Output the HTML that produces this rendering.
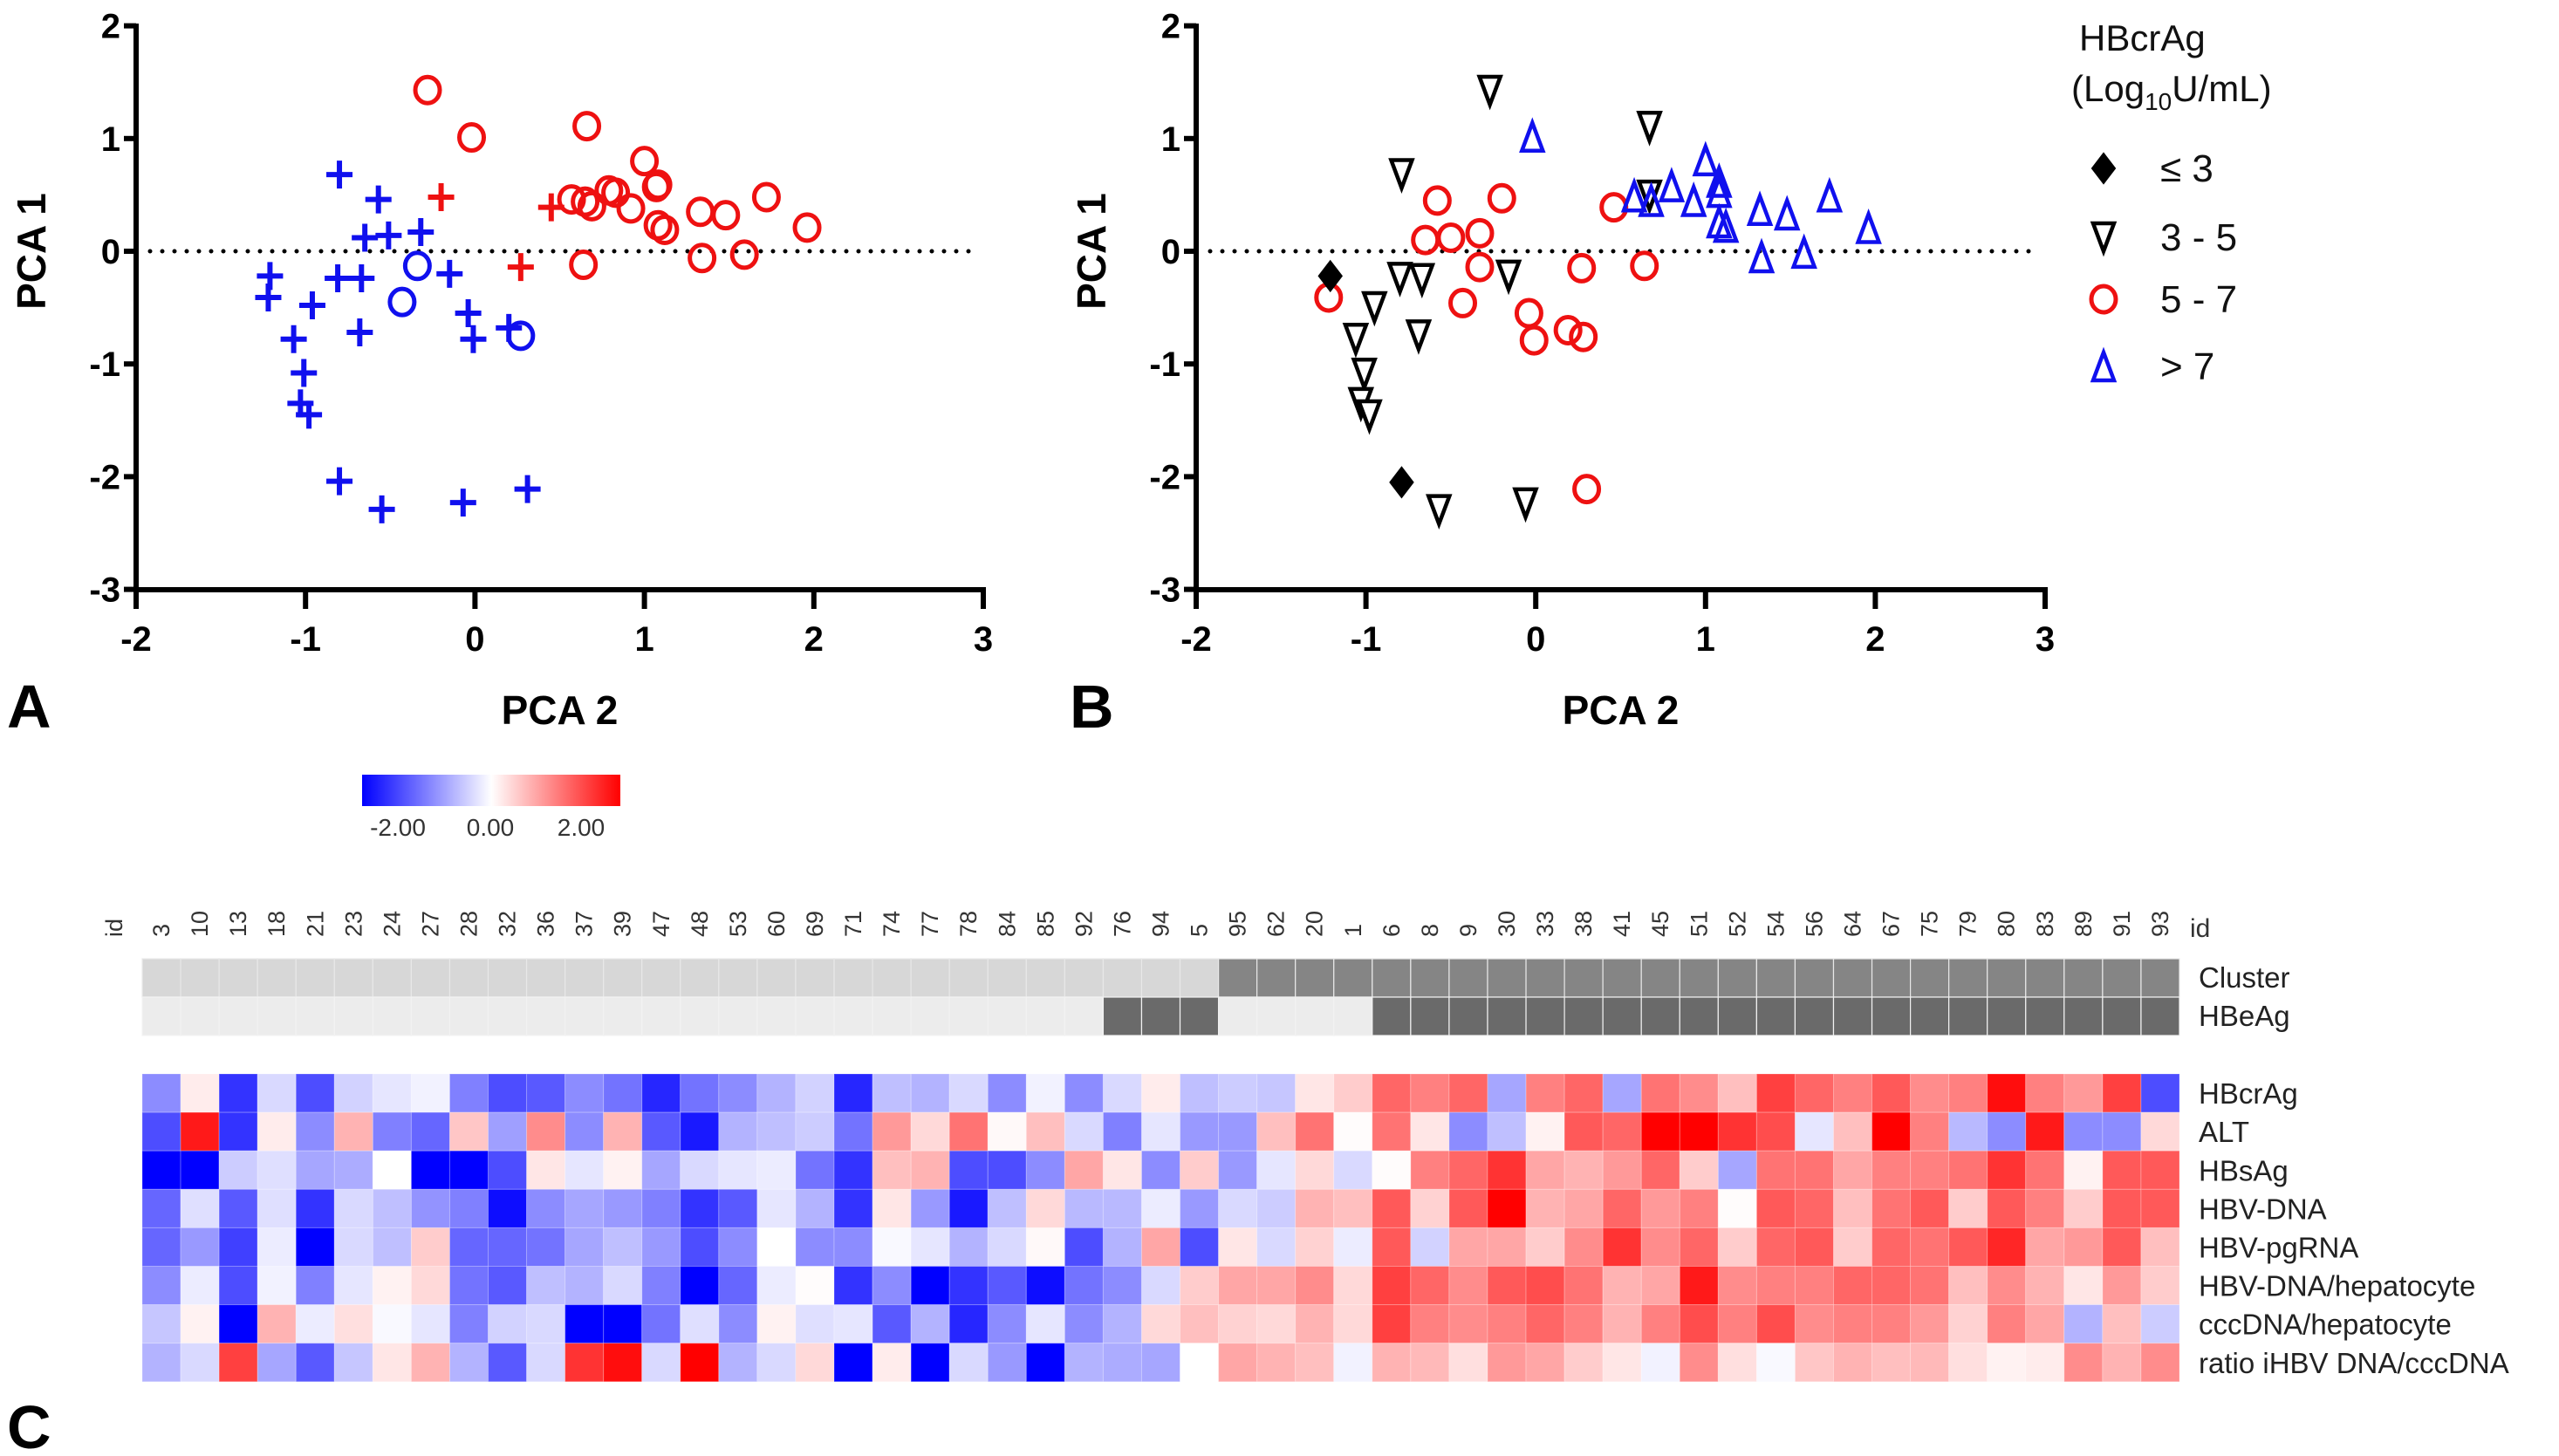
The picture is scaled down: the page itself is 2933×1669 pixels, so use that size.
<!DOCTYPE html>
<html><head><meta charset="utf-8"><style>
html,body{margin:0;padding:0;background:#fff;}
svg{display:block;font-family:"Liberation Sans",sans-serif;}
</style></head><body>
<svg id="fig" width="2933" height="1669" viewBox="0 0 2933 1669" xmlns="http://www.w3.org/2000/svg">
<defs>
<linearGradient id="cbar" x1="0" x2="1" y1="0" y2="0">
<stop offset="0" stop-color="#0000ff"/><stop offset="0.5" stop-color="#ffffff"/><stop offset="1" stop-color="#ff0000"/>
</linearGradient>
</defs>
<g id="panelA"></g>
<g id="panelB"></g>
<g id="legendB">
<text x="2383" y="58" font-size="42" fill="#111">HBcrAg</text>
<text x="2374" y="116" font-size="42" fill="#111">(Log<tspan font-size="28" dy="10">10</tspan><tspan dy="-10">U/mL)</tspan></text>
</g>
<g id="colorbar">
<rect x="415" y="888" width="296" height="36" fill="url(#cbar)"/>
<text x="456" y="958" font-size="28" text-anchor="middle" fill="#333">-2.00</text>
<text x="562" y="958" font-size="28" text-anchor="middle" fill="#333">0.00</text>
<text x="666" y="958" font-size="28" text-anchor="middle" fill="#333">2.00</text>
</g>
<g id="heat"></g>
<text x="8" y="834" font-size="70" font-weight="bold" fill="#000">A</text>
<text x="1226" y="834" font-size="70" font-weight="bold" fill="#000">B</text>
<text x="8" y="1660" font-size="70" font-weight="bold" fill="#000">C</text>
</svg>
<script>
// ---------- Panel A data ----------
const aRedCircX = [-0.28,-0.02,0.66,1.0,1.08,1.07,0.57,0.65,0.69,0.79,0.83,0.92,1.08,1.12,1.33,1.48,1.72,1.96,0.64,1.34,1.59];
const aRedCircY = [1.43,1.01,1.11,0.80,0.59,0.57,0.46,0.44,0.40,0.54,0.52,0.38,0.23,0.19,0.35,0.32,0.48,0.21,-0.12,-0.06,-0.03];
const aRedPlusX = [-0.2,0.45,0.27];
const aRedPlusY = [0.48,0.39,-0.14];
const aBlueCircX = [-0.34,-0.43,0.27];
const aBlueCircY = [-0.13,-0.45,-0.75];
const aBluePlusX = [-0.8,-0.57,-0.65,-0.51,-0.32,-1.21,-1.22,-0.96,-0.81,-0.67,-0.15,-0.04,-0.01,0.2,-0.68,-1.07,-1.01,-1.03,-0.98,-0.8,-0.55,-0.07,0.31];
const aBluePlusY = [0.68,0.46,0.12,0.14,0.17,-0.22,-0.41,-0.48,-0.24,-0.24,-0.2,-0.55,-0.78,-0.68,-0.72,-0.78,-1.08,-1.35,-1.45,-2.04,-2.29,-2.23,-2.11];
// ---------- Panel B data ----------
const bDiamX = [-1.21,-0.79];
const bDiamY = [-0.22,-2.05];
const bDownX = [-0.27,0.67,-0.79,-0.8,-0.67,-0.16,-0.95,-1.06,-1.01,-1.03,-0.98,-0.69,-0.57,-0.06,0.67];
const bDownY = [1.44,1.12,0.70,-0.22,-0.23,-0.2,-0.48,-0.76,-1.07,-1.33,-1.44,-0.73,-2.28,-2.22,0.51];
const bCircX = [-0.58,-0.2,-0.65,-0.5,-0.33,-0.33,0.27,0.64,0.46,-1.22,-0.43,-0.04,-0.01,0.19,0.28,0.3];
const bCircY = [0.45,0.47,0.1,0.12,0.16,-0.14,-0.15,-0.13,0.39,-0.41,-0.46,-0.55,-0.79,-0.7,-0.76,-2.11];
const bUpX = [-0.02,1.0,0.58,0.68,0.8,0.93,1.08,1.08,1.12,1.32,1.48,1.73,1.96,1.33,1.58,1.08];
const bUpY = [1.0,0.79,0.47,0.43,0.56,0.43,0.6,0.51,0.2,0.35,0.31,0.47,0.19,-0.07,-0.03,0.24];
const xTicks = [-2,-1,0,1,2,3];
const yTicks = [2,1,0,-1,-2,-3];
const legendLabels = ["\u2264 3","3 - 5","5 - 7","> 7"];
// ---------- Heatmap data ----------
const ids = [3,10,13,18,21,23,24,27,28,32,36,37,39,47,48,53,60,69,71,74,77,78,84,85,92,76,94,5,95,62,20,1,6,8,9,30,33,38,41,45,51,52,54,56,64,67,75,79,80,83,89,91,93];
const rowNames = ["HBcrAg","ALT","HBsAg","HBV-DNA","HBV-pgRNA","HBV-DNA/hepatocyte","cccDNA/hepatocyte","ratio iHBV DNA/cccDNA"];
const clusterVals = [1,1,1,1,1,1,1,1,1,1,1,1,1,1,1,1,1,1,1,1,1,1,1,1,1,1,1,1,2,2,2,2,2,2,2,2,2,2,2,2,2,2,2,2,2,2,2,2,2,2,2,2,2];
const hbeagVals = [0,0,0,0,0,0,0,0,0,0,0,0,0,0,0,0,0,0,0,0,0,0,0,0,0,1,1,1,0,0,0,0,1,1,1,1,1,1,1,1,1,1,1,1,1,1,1,1,1,1,1,1,1];
const rowHBcrAg = [-0.9,0.15,-1.6,-0.3,-1.4,-0.35,-0.2,-0.1,-1.0,-1.4,-1.3,-0.9,-1.1,-1.7,-1.1,-0.9,-0.6,-0.35,-1.7,-0.5,-0.6,-0.3,-0.9,-0.1,-0.9,-0.3,0.15,-0.5,-0.4,-0.45,0.2,0.4,1.2,1.0,1.2,-0.7,1.0,1.2,-0.7,1.1,0.9,0.5,1.5,1.2,1.0,1.3,0.9,1.0,1.9,1.0,0.8,1.5,-1.4];
const rowALT = [-1.4,1.8,-1.6,0.15,-0.9,0.6,-1.0,-1.2,0.45,-0.75,0.9,-0.9,0.6,-1.3,-1.8,-0.6,-0.5,-0.4,-1.1,0.8,0.3,1.1,0.05,0.5,-0.3,-1.0,-0.2,-0.8,-0.8,0.5,1.1,0.02,1.1,0.2,-0.9,-0.5,0.1,1.3,1.2,2.0,2.0,1.6,1.4,-0.2,0.5,2.0,1.0,-0.55,-0.9,1.8,-0.9,-0.9,0.3];
const rowHBsAg = [-2,-2,-0.4,-0.25,-0.7,-0.65,0,-2,-2,-1.4,0.2,-0.2,0.1,-0.7,-0.3,-0.2,-0.15,-1.1,-1.6,0.5,0.6,-1.4,-1.4,-0.9,0.7,0.2,-0.9,0.4,-0.8,-0.2,0.3,-0.3,0.02,1.0,1.2,1.6,0.7,0.6,0.8,1.2,0.4,-0.7,1.1,1.1,0.7,1.0,1.0,1.1,1.6,1.1,0.1,1.3,1.3];
const rowDNA = [-1.2,-0.25,-1.3,-0.25,-1.6,-0.3,-0.5,-0.85,-1.0,-1.9,-0.9,-0.7,-0.8,-1.0,-1.6,-1.3,-0.2,-0.6,-1.6,0.2,-0.8,-1.8,-0.5,0.3,-0.55,-0.55,-0.15,-0.8,-0.3,-0.4,0.6,0.5,1.3,0.35,1.3,2.0,0.6,0.7,1.2,0.8,1.0,0.02,1.3,1.2,0.5,1.1,1.3,0.4,1.3,1.0,0.4,1.3,1.3];
const rowPgRNA = [-1.2,-0.8,-1.5,-0.15,-2,-0.3,-0.5,0.4,-1.2,-1.2,-1.1,-0.7,-0.5,-0.8,-1.4,-0.9,0,-0.9,-0.9,-0.05,-0.2,-0.6,-0.3,0.05,-1.4,-0.6,0.7,-1.4,0.2,-0.3,0.35,-0.15,1.3,-0.35,0.7,0.7,0.4,0.9,1.6,0.9,1.2,0.4,1.2,1.3,0.4,1.2,1.1,1.3,1.7,0.7,0.8,1.3,0.5];
const rowDNAhep = [-0.9,-0.15,-1.4,-0.1,-1.0,-0.2,0.1,0.3,-1.1,-1.3,-0.5,-0.6,-0.3,-1.0,-2,-1.2,-0.15,0.02,-1.6,-0.9,-2,-1.6,-1.3,-1.9,-1.1,-0.9,-0.3,0.4,0.7,0.7,0.9,0.3,1.5,1.2,0.9,1.3,1.4,1.1,0.6,0.7,1.8,0.9,1.0,1.0,1.2,1.2,1.1,0.5,0.9,0.6,0.2,0.8,0.4];
const rowCccDNA = [-0.45,0.1,-2,0.6,-0.15,0.25,-0.05,-0.2,-1.0,-0.35,-0.3,-2,-2,-1.1,-0.25,-0.9,0.1,-0.25,-0.2,-1.3,-0.6,-1.7,-0.9,-0.2,-0.9,-0.6,0.3,0.5,0.35,0.3,0.6,0.3,1.5,1.0,0.9,1.0,1.2,1.0,0.6,1.0,1.4,1.0,1.4,0.9,1.0,1.0,0.8,0.35,1.0,0.7,-0.6,0.5,-0.4];
const rowRatio = [-0.6,-0.3,1.5,-0.7,-1.3,-0.45,0.2,0.6,-0.6,-1.3,-0.3,1.6,1.9,-0.3,2.0,-0.6,-0.3,0.3,-2,0.15,-2,-0.3,-0.8,-2,-0.6,-0.65,-0.7,0,0.7,0.6,0.5,-0.1,0.6,0.55,0.25,0.8,0.7,0.4,0.2,-0.1,0.9,0.25,-0.05,0.45,0.6,0.5,0.55,0.25,0.1,0.15,0.9,0.6,0.9];
const heatRows = [rowHBcrAg,rowALT,rowHBsAg,rowDNA,rowPgRNA,rowDNAhep,rowCccDNA,rowRatio];

const NS="http://www.w3.org/2000/svg";
function mk(parent,tag,attrs){const e=document.createElementNS(NS,tag);for(const k in attrs)e.setAttribute(k,attrs[k]);parent.appendChild(e);return e;}

function drawAxes(g,x0,x1,y0,y1,sx,sy){
  mk(g,'line',{x1:x0,y1:y0-3,x2:x0,y2:y1+3,stroke:'#000','stroke-width':6});
  mk(g,'line',{x1:x0-3,y1:y1,x2:x1+3,y2:y1,stroke:'#000','stroke-width':6});
  xTicks.forEach(v=>{const x=sx(v);
    const t=mk(g,'line',{x1:x,y1:y1,x2:x,y2:y1+22,stroke:'#000','stroke-width':6});
    
    
    const l=mk(g,'text',{x:x,y:y1+70,'font-size':40,'font-weight':'bold','text-anchor':'middle'});l.textContent=v;
    
    
  });
  yTicks.forEach(v=>{const y=sy(v);
    const t=mk(g,'line',{x1:x0-14,y1:y,x2:x0,y2:y,stroke:'#000','stroke-width':6});
    
    
    const l=mk(g,'text',{x:x0-18,y:y+14,'font-size':40,'font-weight':'bold','text-anchor':'end'});l.textContent=v;
    
    
  });
  const zl=mk(g,'line',{x1:x0+16,y1:sy(0),x2:x1-16,y2:sy(0),stroke:'#000','stroke-width':5,'stroke-dasharray':'0 14','stroke-linecap':'round'});
  
  
  const xt=mk(g,'text',{x:(x0+x1)/2,y:y1+154,'font-size':46,'font-weight':'bold','text-anchor':'middle'});xt.textContent='PCA 2';
  
  
  const yt=mk(g,'text',{x:0,y:0,'font-size':46,'font-weight':'bold','text-anchor':'middle',transform:`translate(${x0-104},${sy(0)}) rotate(-90)`});yt.textContent='PCA 1';
  
  
}
function circle(g,x,y,c){const e=mk(g,'ellipse',{cx:x,cy:y,rx:14,ry:15,fill:'none',stroke:c,'stroke-width':5});
  
  }
function plus(g,x,y,c){const e=mk(g,'path',{d:`M${x-15},${y}H${x+15}M${x},${y-16}V${y+16}`,stroke:c,'stroke-width':6,fill:'none'});
  
  }
function down(g,x,y,c){const e=mk(g,'path',{d:`M${x-12},${y-14}L${x+12},${y-14}L${x},${y+18}Z`,stroke:c,'stroke-width':4.5,fill:'#fff','stroke-linejoin':'miter'});
  
  }
function up(g,x,y,c){const e=mk(g,'path',{d:`M${x-12},${y+14}L${x+12},${y+14}L${x},${y-18}Z`,stroke:c,'stroke-width':4.5,fill:'none'});
  
  }
function diam(g,x,y,c){const e=mk(g,'path',{d:`M${x},${y-17}L${x+13},${y}L${x},${y+17}L${x-13},${y}Z`,fill:c,stroke:c,'stroke-width':2});
  
  }

// Panel A
(function(){
  const g=document.getElementById('panelA');
  const sx=v=>156+(v+2)*194.2, sy=v=>288-v*129.2;
  drawAxes(g,156,1127,30,676,sx,sy);
  aBluePlusX.forEach((v,i)=>plus(g,sx(v),sy(aBluePlusY[i]),'#1010ee'));
  aBlueCircX.forEach((v,i)=>circle(g,sx(v),sy(aBlueCircY[i]),'#1010ee'));
  aRedPlusX.forEach((v,i)=>plus(g,sx(v),sy(aRedPlusY[i]),'#ee1111'));
  aRedCircX.forEach((v,i)=>circle(g,sx(v),sy(aRedCircY[i]),'#ee1111'));
})();
// Panel B
(function(){
  const g=document.getElementById('panelB');
  const sx=v=>1371+(v+2)*194.6, sy=v=>288-v*129.2;
  drawAxes(g,1371,2344,30,676,sx,sy);
  bDownX.forEach((v,i)=>down(g,sx(v),sy(bDownY[i]),'#000'));
  bCircX.forEach((v,i)=>circle(g,sx(v),sy(bCircY[i]),'#ee1111'));
  bUpX.forEach((v,i)=>up(g,sx(v),sy(bUpY[i]),'#1010ee'));
  bDiamX.forEach((v,i)=>diam(g,sx(v),sy(bDiamY[i]),'#000'));
  const lg=document.getElementById('legendB');
  const ly=[193,272,343,420];
  diam(lg,2411,ly[0],'#000');down(lg,2411,ly[1]-2,'#000');circle(lg,2411,ly[2],'#ee1111');up(lg,2411,ly[3]+2,'#1010ee');
  legendLabels.forEach((t,i)=>{const e=mk(lg,'text',{x:2476,y:ly[i]+15,'font-size':44,fill:'#111'});e.textContent=t;
    
    });
})();
// Heatmap
(function(){
  const g=document.getElementById('heat');
  const left=163, cw=(2498-163)/ids.length, top=1231, rh=44.1;
  function col(v){v=Math.max(-2,Math.min(2,v));const t=Math.abs(v)/2;const o=Math.round(255*(1-t));
    return v<0?`rgb(${o},${o},255)`:`rgb(255,${o},${o})`;}
  ids.forEach((id,i)=>{
    const x=left+i*cw+cw/2;
    const t=mk(g,'text',{x:0,y:0,'font-size':27,fill:'#333',transform:`translate(${x+9},1074) rotate(-90)`});t.textContent=id;
    
    
    const c=mk(g,'rect',{x:left+i*cw,y:1099,width:cw,height:44,fill:clusterVals[i]===1?'#d7d7d7':'#858585',stroke:'#e8e8e8','stroke-width':1.2});
    
    
    const h=mk(g,'rect',{x:left+i*cw,y:1143,width:cw,height:44,fill:hbeagVals[i]===1?'#6a6a6a':'#ececec',stroke:'#f2f2f2','stroke-width':1.2});
    
    
    heatRows.forEach((row,r)=>{
      const e=mk(g,'rect',{x:left+i*cw,y:top+r*rh,width:cw,height:rh,fill:col(row[i]),stroke:'rgba(255,255,255,0.25)','stroke-width':1});
      
      
    });
  });
  const a=mk(g,'text',{x:0,y:0,'font-size':27,fill:'#333',transform:`translate(140,1074) rotate(-90)`});a.textContent='id';
  
  
  const b=mk(g,'text',{x:2510,y:1074,'font-size':30,fill:'#333'});b.textContent='id';
  
  
  const cl=mk(g,'text',{x:2520,y:1132,'font-size':33,fill:'#222'});cl.textContent='Cluster';
  
  
  const he=mk(g,'text',{x:2520,y:1176,'font-size':33,fill:'#222'});he.textContent='HBeAg';
  
  
  rowNames.forEach((n,r)=>{const e=mk(g,'text',{x:2520,y:top+r*rh+rh/2+12,'font-size':33,fill:'#222'});e.textContent=n;
    
    });
})();
</script>
</body></html>
